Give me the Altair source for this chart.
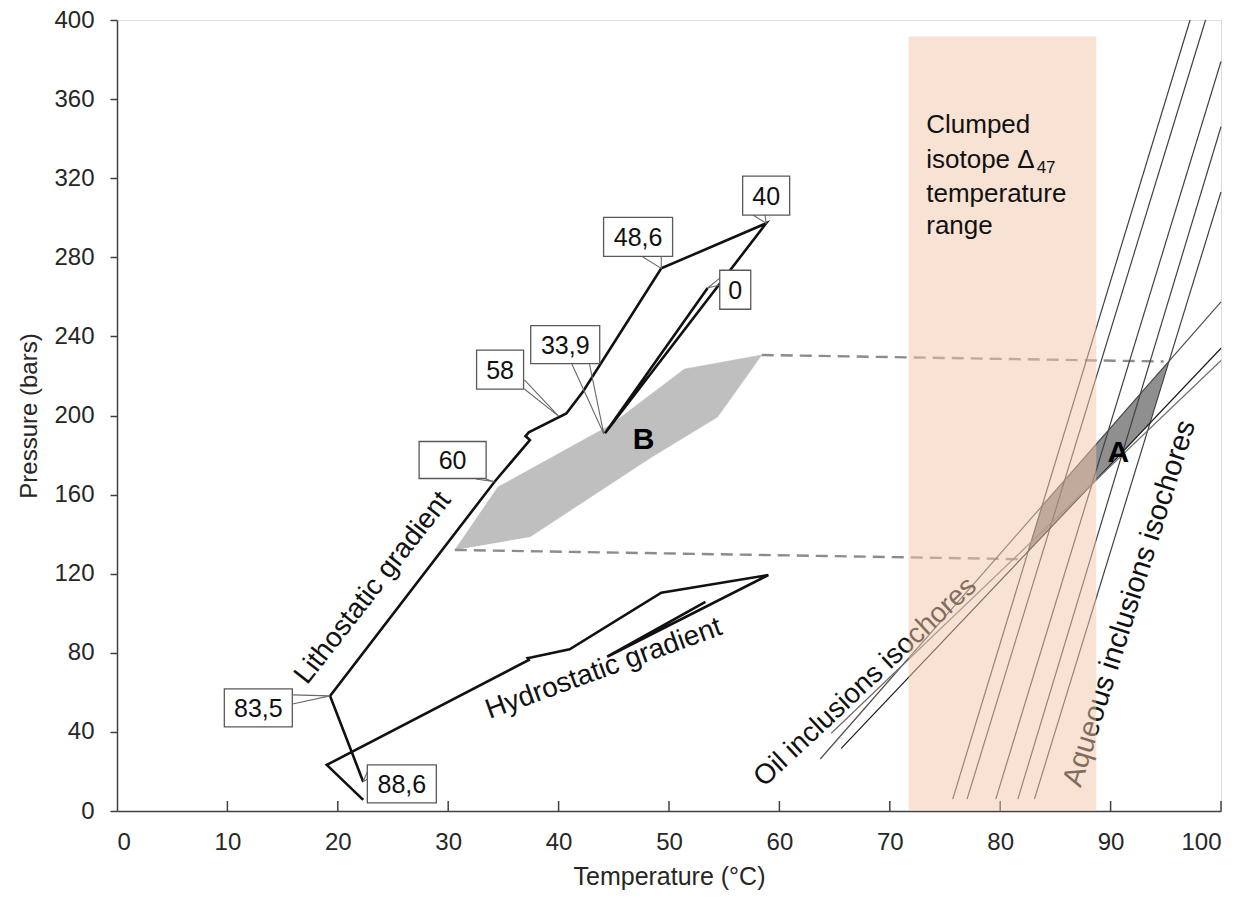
import altair as alt
import pandas as pd

# ---------------- data (T in °C, P in bars) ----------------
litho_T = [22.3, 19.3, 34.2, 37.4, 37.0, 37.3, 40.7, 42.2, 49.3, 58.8, 44.2, 53.5]
litho_P = [14.8, 58.2, 166.5, 187.6, 189.6, 191.5, 201.0, 212.0, 274.4, 297.2, 191.0, 264.5]

hydro_T = [22.3, 19.0, 37.3, 37.2, 37.6, 41.0, 49.3, 59.0, 44.4, 53.3]
hydro_P = [5.6, 23.3, 76.4, 77.3, 77.7, 81.8, 110.4, 119.3, 78.0, 105.8]

B_T = [30.6, 34.5, 44.7, 51.4, 58.4, 54.4, 48.3, 37.4]
B_P = [132.0, 163.8, 195.2, 223.5, 230.6, 199.2, 178.5, 138.6]

A_T = [82.5, 83.8, 95.25, 93.5]
A_P = [131.0, 154.3, 227.3, 196.0]

dash_T = [[58.4, 94.8], [30.6, 82.3]]
dash_P = [[230.6, 227.3], [132.0, 127.3]]

aq_T = [[75.7, 97.2], [77.0, 98.6], [79.6, 100.0], [81.6, 100.0], [83.1, 100.0]]
aq_P = [[6.0, 400.0], [6.0, 400.0], [6.0, 379.0], [6.0, 346.0], [6.0, 313.0]]

oil_T = [[63.7, 100.0], [65.6, 100.0], [64.7, 100.0]]
oil_P = [[26.3, 257.5], [31.7, 234.0], [39.3, 227.8]]
oil_shade = ["mid", "dark", "light"]

band_T = [71.7, 88.7]
band_P = [0, 391.6]

age_labels = ["88,6", "83,5", "60", "58", "33,9", "48,6", "40", "0"]
box_T = [25.8, 12.8, 30.4, 34.7, 40.6, 47.2, 58.8, 56.0]
box_P = [13.7, 52.1, 177.5, 223.2, 235.8, 290.3, 311.2, 263.6]
box_w = [69, 68, 67, 47, 69, 69, 47, 31]
box_h = [38, 38, 37, 39, 38, 39, 39, 39]
wedge_T = [[22.7, 22.3, 22.7], [15.9, 19.3, 15.9], [32.5, 34.2, 33.4], [36.9, 40.0, 36.9],
           [41.2, 44.1, 42.8], [47.6, 49.3, 49.3], [57.6, 58.8, 58.7], [54.6, 53.5, 54.6]]
wedge_P = [[20.2, 14.8, 16.2], [58.7, 58.2, 54.1], [167.9, 166.5, 167.9], [218.0, 199.7, 213.4],
           [226.0, 190.6, 226.0], [280.3, 274.4, 280.3], [301.4, 297.2, 301.4], [269.5, 264.5, 266.0]]

x_ticks = [10, 20, 30, 40, 50, 60, 70, 80, 90, 100]
y_ticks = [0, 40, 80, 120, 160, 200, 240, 280, 320, 360, 400]

clumped_lines = ["Clumped", "isotope Δ", "temperature", "range"]
clumped_P = [342.9, 325.2, 308.2, 291.6]

# ---------------- geometry helpers ----------------
W, H = 1104, 791
X_MAX, Y_MAX = 100, 400
px_T = W / X_MAX
px_P = H / Y_MAX
FONT = "Liberation Sans"

xs = alt.Scale(domain=[0, X_MAX], nice=False, zero=False)
ys = alt.Scale(domain=[0, Y_MAX], nice=False, zero=False)

X_AX = alt.Axis(values=[0] + x_ticks, ticks=False, grid=False, domainColor="#404040", domainWidth=1.5,
                labelFontSize=24, labelColor="#262626", labelFont=FONT, labelPadding=19,
                titleFont=FONT, titleFontSize=25, titleFontWeight="normal", titleColor="#262626",
                titlePadding=10)
Y_AX = alt.Axis(values=y_ticks, tickSize=7, tickColor="#404040", tickWidth=1.5, grid=False,
                domainColor="#404040", domainWidth=1.5, labelFontSize=24, labelColor="#262626",
                labelFont=FONT, labelPadding=16, titleFont=FONT, titleFontSize=24,
                titleFontWeight="normal", titleColor="#262626", titlePadding=12)
XT = "Temperature (°C)"
YT = "Pressure (bars)"


def X(f="T"):
    return alt.X(f"{f}:Q", scale=xs, axis=X_AX, title=XT)


def Y(f="P"):
    return alt.Y(f"{f}:Q", scale=ys, axis=Y_AX, title=YT)


def path_df(T, P):
    return pd.DataFrame({"T": T, "P": P, "o": range(len(T))})


def multi_df(Ts, Ps, extra=None):
    rows = []
    for i, (tt, pp) in enumerate(zip(Ts, Ps)):
        for j, (t, p) in enumerate(zip(tt, pp)):
            r = {"T": t, "P": p, "id": i, "o": j}
            if extra is not None:
                r["k"] = extra[i]
            rows.append(r)
    return pd.DataFrame(rows)


xt = pd.DataFrame({"T": x_ticks, "P0": [0] * len(x_ticks), "P1": [10 / px_P] * len(x_ticks)})
xtick_layer = alt.Chart(xt).mark_rule(color="#404040", strokeWidth=1.5).encode(
    x=X(), y=Y("P0"), y2="P1:Q")

B_layer = alt.Chart(path_df(B_T, B_P)).mark_line(fill="#BFBFBF", stroke="#BFBFBF", strokeWidth=0.5).encode(
    x=X(), y=Y(), order="o:Q")

dash_layer = alt.Chart(multi_df(dash_T, dash_P)).mark_line(color="#8c8c8c", strokeWidth=2.4,
                                                           strokeDash=[12, 7]).encode(
    x=X(), y=Y(), detail="id:N", order="o:Q")

litho_layer = alt.Chart(path_df(litho_T, litho_P)).mark_line(color="#111", strokeWidth=2.6,
                                                             strokeJoin="miter").encode(
    x=X(), y=Y(), order="o:Q")
hydro_layer = alt.Chart(path_df(hydro_T, hydro_P)).mark_line(color="#111", strokeWidth=2.6,
                                                             strokeJoin="miter").encode(
    x=X(), y=Y(), order="o:Q")

A_layer = alt.Chart(path_df(A_T, A_P)).mark_line(fill="#8f8f8f", stroke="#8f8f8f", strokeWidth=0.5).encode(
    x=X(), y=Y(), order="o:Q")

aq_layer = alt.Chart(multi_df(aq_T, aq_P)).mark_line(color="#404040", strokeWidth=1.2).encode(
    x=X(), y=Y(), detail="id:N", order="o:Q")

oil_layer = alt.Chart(multi_df(oil_T, oil_P, oil_shade)).mark_line(strokeWidth=1.2).encode(
    x=X(), y=Y(), detail="id:N", order="o:Q",
    color=alt.Color("k:N", scale=alt.Scale(domain=["dark", "mid", "light"],
                                           range=["#1a1a1a", "#4d4d4d", "#6e6e6e"]), legend=None))


def rot_text(txt, T, P, angle, size=28, color="#111", weight="normal"):
    return alt.Chart(pd.DataFrame({"T": [T], "P": [P], "t": [txt]})).mark_text(
        angle=angle, fontSize=size, font=FONT, color=color, fontWeight=weight,
        align="center", baseline="middle").encode(x=X(), y=Y(), text="t:N")


lith_txt = rot_text("Lithostatic gradient", 23.2, 112.8, 308)
hyd_txt = rot_text("Hydrostatic gradient", 44.1, 71.8, 340)
oil_txt = rot_text("Oil inclusions isochores", 67.8, 65.2, 317)
aq_txt = rot_text("Aqueous inclusions isochores", 91.7, 105.0, 287.5, size=29)

band_layer = alt.Chart(pd.DataFrame({"T": [band_T[0]], "T2": [band_T[1]], "P": [band_P[0]],
                                     "P2": [band_P[1]]})).mark_rect(color="#F2C6A8", opacity=0.5).encode(
    x=X(), x2="T2:Q", y=Y(), y2="P2:Q")

cl_df = pd.DataFrame({"T": [73.3] * 4, "P": clumped_P, "t": clumped_lines})
clumped_layer = alt.Chart(cl_df).mark_text(fontSize=26, font=FONT, color="#111", align="left",
                                           baseline="alphabetic").encode(x=X(), y=Y(), text="t:N")
sub_layer = alt.Chart(pd.DataFrame({"T": [83.3], "P": [322.7], "t": ["47"]})).mark_text(
    fontSize=17, font=FONT, color="#111", align="left", baseline="alphabetic").encode(
    x=X(), y=Y(), text="t:N")

wedge_layer = alt.Chart(multi_df(wedge_T, wedge_P)).mark_line(color="#6a6a6a", strokeWidth=1.1).encode(
    x=X(), y=Y(), detail="id:N", order="o:Q")

bx = pd.DataFrame({"t": age_labels, "T": box_T, "P": box_P,
                   "T1": [t - w / 2 / px_T for t, w in zip(box_T, box_w)],
                   "T2": [t + w / 2 / px_T for t, w in zip(box_T, box_w)],
                   "P1": [p - h / 2 / px_P for p, h in zip(box_P, box_h)],
                   "P2": [p + h / 2 / px_P for p, h in zip(box_P, box_h)]})
box_layer = alt.Chart(bx).mark_rect(fill="white", stroke="#595959", strokeWidth=1.3).encode(
    x=X("T1"), x2="T2:Q", y=Y("P1"), y2="P2:Q")
box_txt = alt.Chart(bx).mark_text(fontSize=25, font=FONT, color="#111", align="center",
                                  baseline="middle", dy=1).encode(x=X(), y=Y(), text="t:N")

letters = alt.Chart(pd.DataFrame({"T": [90.7, 47.7], "P": [180.9, 187.6], "t": ["A", "B"]})).mark_text(
    fontSize=30, font=FONT, fontWeight="bold", color="#000", align="center", baseline="middle").encode(
    x=X(), y=Y(), text="t:N")

chart = alt.layer(
    xtick_layer, B_layer, dash_layer, litho_layer, hydro_layer, A_layer, aq_layer, oil_layer,
    lith_txt, hyd_txt, oil_txt, aq_txt, band_layer, clumped_layer, sub_layer, wedge_layer,
    box_layer, box_txt, letters
).properties(
    width=W, height=H,
    autosize=alt.AutoSizeParams(type="none"),
    padding={"left": 117, "top": 20, "right": 34, "bottom": 90},
).configure_view(strokeWidth=0).configure(background="white")

chart.save("out.html", embed_options={"renderer": "svg", "actions": False})
